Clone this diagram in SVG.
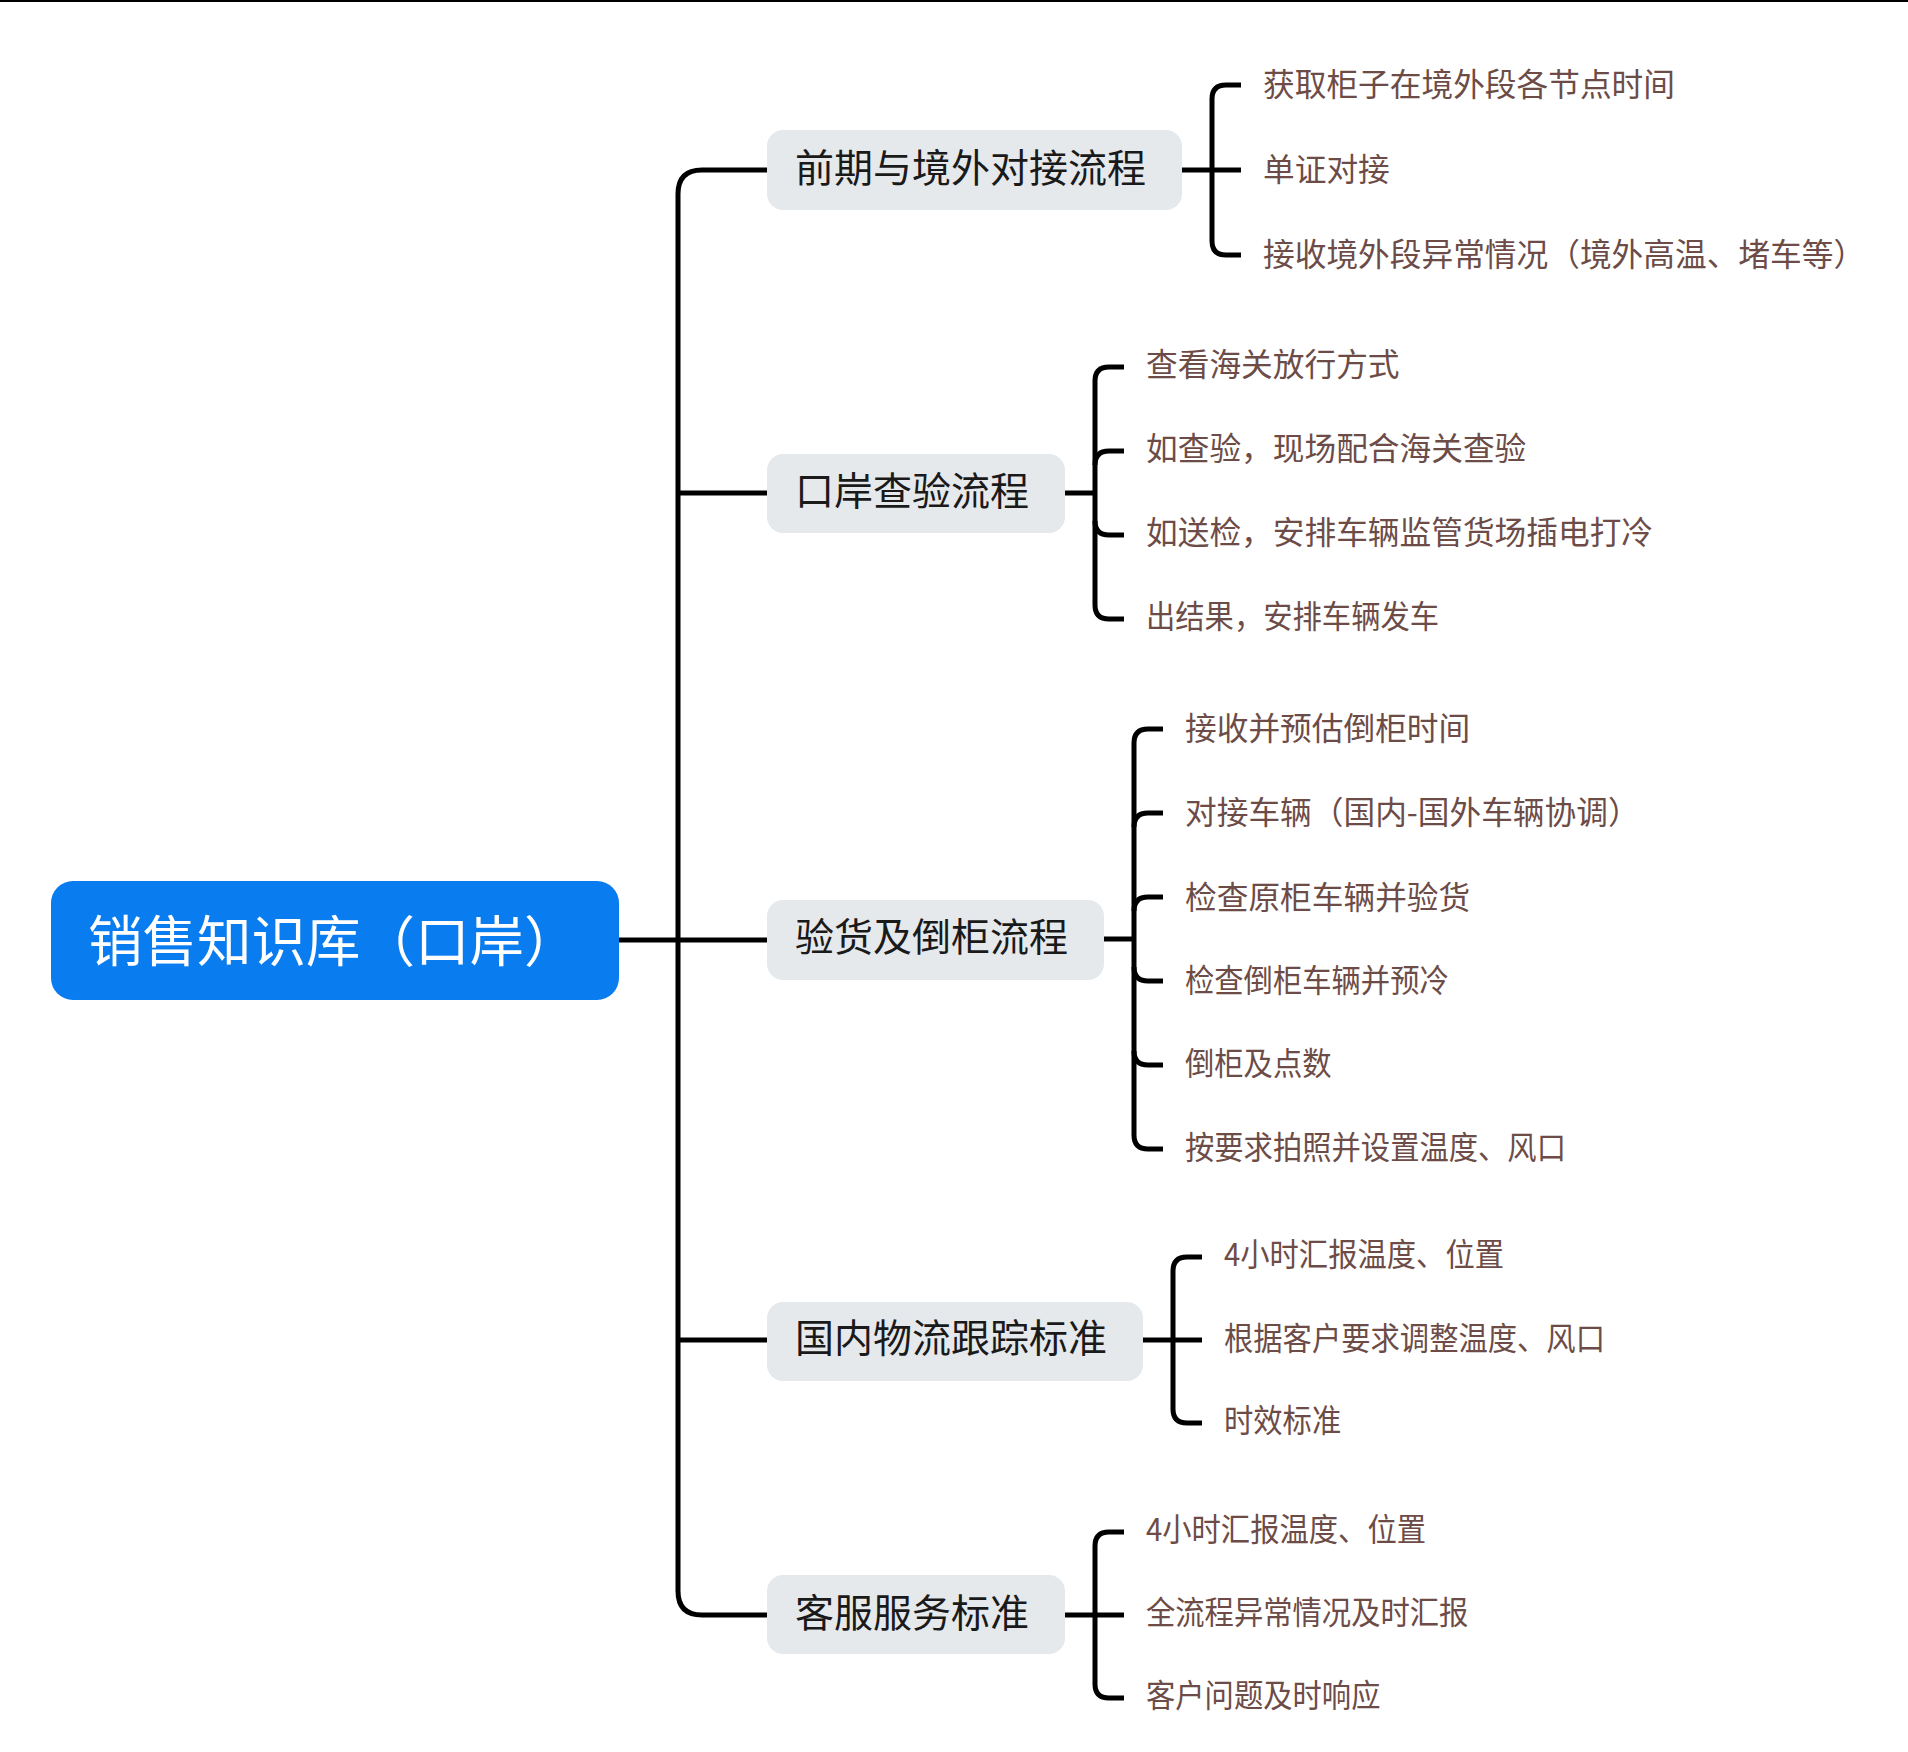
<svg xmlns="http://www.w3.org/2000/svg" width="1908" height="1752" viewBox="0 0 1908 1752">
<style>
.bg{fill:#ffffff}
.conn{fill:none;stroke:#000000;stroke-width:5;stroke-linecap:butt;stroke-linejoin:round}
.root{fill:#097cf0}
.rootText{fill:#ffffff;font-family:"Noto Sans CJK SC","Noto Sans",sans-serif;font-size:54.5px;dominant-baseline:central}
.main{fill:#e6e9ec}
.mainText{fill:#1a1a1a;font-family:"Noto Sans CJK SC","Noto Sans",sans-serif;font-size:39px;dominant-baseline:central}
.sub{fill:#6d4c47;font-family:"Noto Sans CJK SC","Noto Sans",sans-serif;font-size:31.7px;dominant-baseline:central}
</style>
<rect class="bg" x="0" y="0" width="1908" height="1752"/>
<line x1="0" y1="1" x2="1908" y2="1" stroke="#000" stroke-width="2"/>
<g id="connectors">
  <path class="conn" d="M619,940 H767"/>
  <path class="conn" d="M767,170 H702 Q678,170 678,194 V1591 Q678,1615 702,1615 H767"/>
  <path class="conn" d="M678,493 H767"/>
  <path class="conn" d="M678,1340 H767"/>
  <!-- group1 -->
  <path class="conn" d="M1182,170 H1241"/>
  <path class="conn" d="M1241,85 H1226 Q1212,85 1212,99 V241 Q1212,255 1226,255 H1241"/>
  <!-- group2 -->
  <path class="conn" d="M1065,493 H1095"/>
  <path class="conn" d="M1124,367 H1109 Q1095,367 1095,381 V605 Q1095,619 1109,619 H1124"/>
  <path class="conn" d="M1095,465 Q1095,451 1109,451 H1124"/>
  <path class="conn" d="M1095,521 Q1095,535 1109,535 H1124"/>
  <!-- group3 -->
  <path class="conn" d="M1104,939 H1134"/>
  <path class="conn" d="M1163,729 H1148 Q1134,729 1134,743 V1135 Q1134,1149 1148,1149 H1163"/>
  <path class="conn" d="M1134,827 Q1134,813 1148,813 H1163"/>
  <path class="conn" d="M1134,911 Q1134,897 1148,897 H1163"/>
  <path class="conn" d="M1134,967 Q1134,981 1148,981 H1163"/>
  <path class="conn" d="M1134,1051 Q1134,1065 1148,1065 H1163"/>
  <!-- group4 -->
  <path class="conn" d="M1143,1340 H1202"/>
  <path class="conn" d="M1202,1257 H1187 Q1173,1257 1173,1271 V1409 Q1173,1423 1187,1423 H1202"/>
  <!-- group5 -->
  <path class="conn" d="M1065,1615 H1124"/>
  <path class="conn" d="M1124,1532 H1109 Q1095,1532 1095,1546 V1684 Q1095,1698 1109,1698 H1124"/>
</g>
<g id="root">
  <rect class="root" x="51" y="881" width="568" height="119" rx="22"/>
  <text class="rootText" x="88" y="937">销售知识库（口岸）</text>
</g>
<g id="n1">
  <rect class="main" x="767" y="130" width="415" height="80" rx="16"/>
  <text class="mainText" x="795" y="165">前期与境外对接流程</text>
</g>
<g id="n1c1"><text class="sub" x="1263" y="82">获取柜子在境外段各节点时间</text></g>
<g id="n1c2"><text class="sub" x="1263" y="167">单证对接</text></g>
<g id="n1c3"><text class="sub" x="1263" y="252">接收境外段异常情况（境外高温、堵车等）</text></g>
<g id="n2">
  <rect class="main" x="767" y="454" width="298" height="79" rx="16"/>
  <text class="mainText" x="795" y="488">口岸查验流程</text>
</g>
<g id="n2c1"><text class="sub" x="1146" y="362">查看海关放行方式</text></g>
<g id="n2c2"><text class="sub" x="1146" y="446">如查验，现场配合海关查验</text></g>
<g id="n2c3"><text class="sub" x="1146" y="530">如送检，安排车辆监管货场插电打冷</text></g>
<g id="n2c4"><text class="sub" transform="translate(1146,615) scale(0.925,1)" x="0" y="0">出结果，安排车辆发车</text></g>
<g id="n3">
  <rect class="main" x="767" y="900" width="337" height="80" rx="16"/>
  <text class="mainText" x="795" y="934">验货及倒柜流程</text>
</g>
<g id="n3c1"><text class="sub" x="1185" y="726">接收并预估倒柜时间</text></g>
<g id="n3c2"><text class="sub" x="1185" y="810">对接车辆（国内-国外车辆协调）</text></g>
<g id="n3c3"><text class="sub" x="1185" y="895">检查原柜车辆并验货</text></g>
<g id="n3c4"><text class="sub" transform="translate(1185,979) scale(0.925,1)" x="0" y="0">检查倒柜车辆并预冷</text></g>
<g id="n3c5"><text class="sub" transform="translate(1185,1062) scale(0.925,1)" x="0" y="0">倒柜及点数</text></g>
<g id="n3c6"><text class="sub" transform="translate(1185,1146) scale(0.925,1)" x="0" y="0">按要求拍照并设置温度、风口</text></g>
<g id="n4">
  <rect class="main" x="767" y="1302" width="376" height="79" rx="16"/>
  <text class="mainText" x="795" y="1335">国内物流跟踪标准</text>
</g>
<g id="n4c1"><text class="sub" transform="translate(1224,1253) scale(0.925,1)" x="0" y="0">4小时汇报温度、位置</text></g>
<g id="n4c2"><text class="sub" transform="translate(1224,1337) scale(0.925,1)" x="0" y="0">根据客户要求调整温度、风口</text></g>
<g id="n4c3"><text class="sub" transform="translate(1224,1419) scale(0.925,1)" x="0" y="0">时效标准</text></g>
<g id="n5">
  <rect class="main" x="767" y="1575" width="298" height="79" rx="16"/>
  <text class="mainText" x="795" y="1610">客服服务标准</text>
</g>
<g id="n5c1"><text class="sub" transform="translate(1146,1528) scale(0.925,1)" x="0" y="0">4小时汇报温度、位置</text></g>
<g id="n5c2"><text class="sub" transform="translate(1146,1611) scale(0.925,1)" x="0" y="0">全流程异常情况及时汇报</text></g>
<g id="n5c3"><text class="sub" transform="translate(1146,1694) scale(0.925,1)" x="0" y="0">客户问题及时响应</text></g>
</svg>
